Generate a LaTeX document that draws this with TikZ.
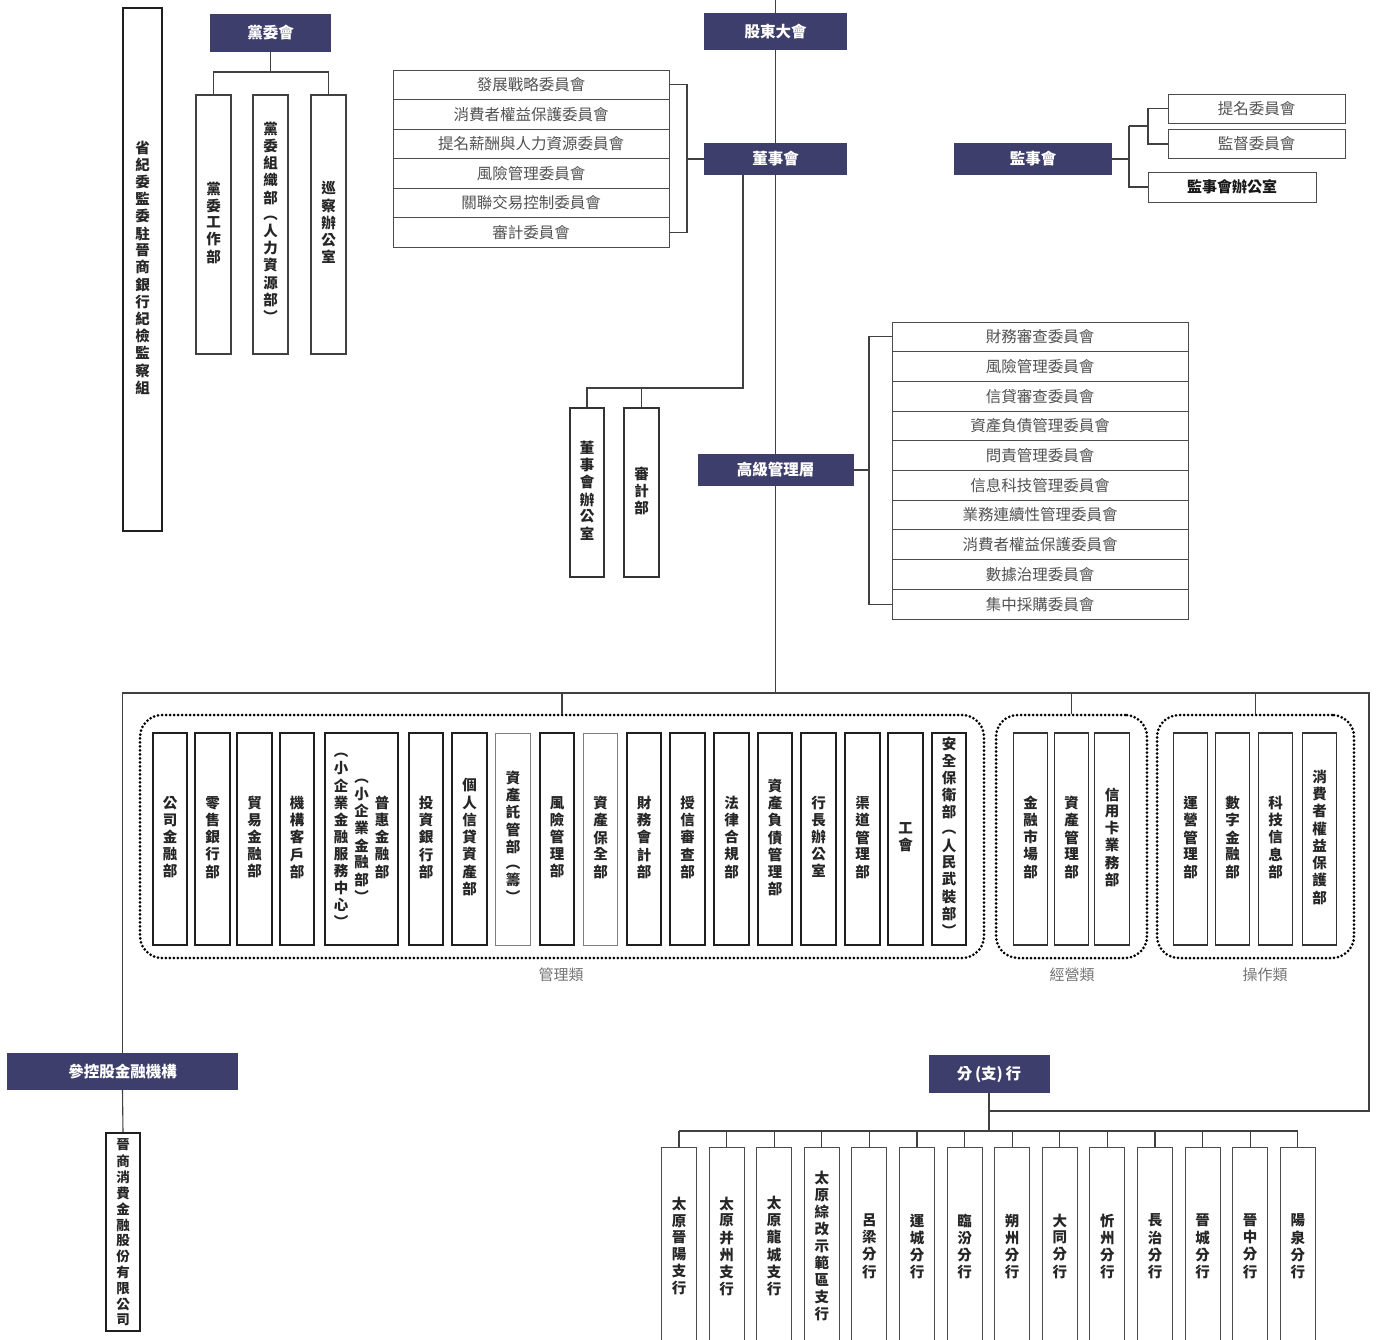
\documentclass[tikz,border=0pt]{standalone}
\usepackage{fontspec}
\setmainfont{Noto Sans CJK TC}
\definecolor{navy}{RGB}{62,62,108}
\let\vtend\relax
\newcommand\vt[1]{\begin{tabular}{@{}c@{}}\vtA#1\vtend\end{tabular}}
\def\vtA#1{#1\vtB}
\def\vtB#1{\ifx#1\vtend\expandafter\vtstop\else\expandafter\vtgo\fi#1}
\def\vtstop#1{}
\def\vtgo#1{\\#1\vtB}
\tikzset{
 ln/.style={draw=black!75, line width=1.1pt},
 dark/.style={fill=navy, draw=none, text=white, font=\bfseries\fontsize{15.5}{17}\selectfont, inner sep=0pt},
 vbox/.style={draw=black!88, line width=1.6pt, fill=white, inner sep=0pt, font=\bfseries\fontsize{14.5}{16}\selectfont, text=black!85},
 vthin/.style={vbox, draw=black!50, line width=0.9pt},
 vmed/.style={vbox, line width=1.1pt, draw=black!80},
 crow/.style={draw=black!70, line width=0.9pt, fill=white, inner sep=0pt, text=black!68, font=\fontsize{15.5}{17}\selectfont},
 grp/.style={draw=black, line width=3pt, dash pattern=on 0pt off 4pt, line cap=round, rounded corners=22pt, inner sep=0pt},
 glabel/.style={text=black!55, font=\fontsize{15}{17}\selectfont, inner sep=0pt},
}
\begin{document}
\begin{tikzpicture}[x=1pt,y=-1pt]
\useasboundingbox (0,0) rectangle (1377,1340);
% left column box
\node[vbox, minimum width=39, minimum height=523, font=\bfseries\fontsize{14.5}{15.8}\selectfont] (jw) at (142.5,269.5) {\vt{省紀委監委駐晉商銀行紀檢監察組}};
% party committee
\node[dark, minimum width=121, minimum height=38] (pc) at (270.5,33) {黨委會};
\node[vbox, draw=black!75, line width=1.4pt, minimum width=35, minimum height=259] (p1) at (213.5,224.5) {\vt{黨委工作部}};
\node[vbox, draw=black!75, line width=1.4pt, minimum width=35, minimum height=259] (p2) at (270.5,224.5) {\vt{黨委組織部︵人力資源部︶}};
\node[vbox, draw=black!75, line width=1.4pt, minimum width=35, minimum height=259] (p3) at (328.5,224.5) {\vt{巡察辦公室}};
\coordinate (pcj) at (270.5,72);
\draw[ln] (pc.south) -- (pcj);
\draw[ln] (p1.north) -- (p1.north |- pcj) -- (p3.north |- pcj) -- (p3.north);
% shareholders, board
\coordinate (top) at (775.5,0);
\node[dark, minimum width=143, minimum height=37] (gd) at (775.5,31.5) {股東大會};
\node[dark, minimum width=143, minimum height=32] (bod) at (775.5,159) {董事會};
\node[dark, minimum width=156, minimum height=32] (sm) at (775.5,470) {高級管理層};
\coordinate (jm) at (775.5,693);
\draw[ln] (top) -- (gd.north);
\draw[ln] (gd.south) -- (bod.north);
\draw[ln] (bod.south) -- (sm.north);
\draw[ln] (sm.south) -- (jm);
% board committees
\node[crow, minimum width=276, minimum height=29.5] (bc1) at (531,84.75) {發展戰略委員會};
\node[crow, minimum width=276, minimum height=29.5] (bc2) at (531,114.25) {消費者權益保護委員會};
\node[crow, minimum width=276, minimum height=29.5] (bc3) at (531,143.75) {提名薪酬與人力資源委員會};
\node[crow, minimum width=276, minimum height=29.5] (bc4) at (531,173.25) {風險管理委員會};
\node[crow, minimum width=276, minimum height=29.5] (bc5) at (531,202.75) {關聯交易控制委員會};
\node[crow, minimum width=276, minimum height=29.5] (bc6) at (531,232.25) {審計委員會};
\coordinate (bcj) at (687,159);
\draw[ln] (bc1.east) -- (bc1.east -| bcj) -- (bc6.east -| bcj) -- (bc6.east);
\draw[ln] (bcj) -- (bod.west);
% board office, audit
\node[vmed, minimum width=34, minimum height=169] (bo1) at (587,492.5) {\vt{董事會辦公室}};
\node[vmed, minimum width=35, minimum height=169] (bo2) at (641.5,492.5) {\vt{審計部}};
\coordinate (jbo) at (743,388);
\draw[ln] (bod.south -| jbo) -- (jbo) -- (bo1.north |- jbo) -- (bo1.north);
\draw[ln] (bo2.north |- jbo) -- (bo2.north);
% supervisors
\node[dark, minimum width=158, minimum height=32] (sup) at (1033,159) {監事會};
\node[crow, minimum width=177, minimum height=29] (n1) at (1256.5,108.5) {提名委員會};
\node[crow, minimum width=177, minimum height=29] (n2) at (1256.5,144) {監督委員會};
\node[crow, minimum width=168, minimum height=30, text=black!90, font=\bfseries\fontsize{15}{17}\selectfont] (n3) at (1232,187) {監事會辦公室};
\coordinate (sj) at (1129,159);
\coordinate (sj2) at (1148,126);
\draw[ln] (sup.east) -- (sj);
\draw[ln] (sj |- sj2) -- (sj |- n3.west) -- (n3.west);
\draw[ln] (sj |- sj2) -- (sj2);
\draw[ln] (n1.west) -- (n1.west -| sj2) -- (n2.west -| sj2) -- (n2.west);
% senior committees
\node[crow, minimum width=296, minimum height=29.7] (sc1) at (1040,336.85) {財務審查委員會};
\node[crow, minimum width=296, minimum height=29.7] (sc2) at (1040,366.55) {風險管理委員會};
\node[crow, minimum width=296, minimum height=29.7] (sc3) at (1040,396.25) {信貸審查委員會};
\node[crow, minimum width=296, minimum height=29.7] (sc4) at (1040,425.95) {資產負債管理委員會};
\node[crow, minimum width=296, minimum height=29.7] (sc5) at (1040,455.65) {問責管理委員會};
\node[crow, minimum width=296, minimum height=29.7] (sc6) at (1040,485.35) {信息科技管理委員會};
\node[crow, minimum width=296, minimum height=29.7] (sc7) at (1040,515.05) {業務連續性管理委員會};
\node[crow, minimum width=296, minimum height=29.7] (sc8) at (1040,544.75) {消費者權益保護委員會};
\node[crow, minimum width=296, minimum height=29.7] (sc9) at (1040,574.45) {數據治理委員會};
\node[crow, minimum width=296, minimum height=29.7] (sc10) at (1040,604.15) {集中採購委員會};
\coordinate (scj) at (869,470);
\draw[ln] (sm.east) -- (scj);
\draw[ln] (sc1.west) -- (sc1.west -| scj) -- (sc10.west -| scj) -- (sc10.west);
% frame
\coordinate (fl) at (122.5,693);
\coordinate (fr) at (1369,693);
\coordinate (frb) at (1369,1111);
\node[dark, minimum width=231, minimum height=37] (cg) at (122.5,1071.5) {參控股金融機構};
\node[vbox, minimum width=34, minimum height=198, font=\bfseries\fontsize{13.5}{15}\selectfont] (sub) at (123,1232) {\raisebox{-2pt}[\height][\depth]{\vt{晉商消費金融股份有限公司}}};
\node[dark, minimum width=121, minimum height=38] (br) at (989,1074) {分\,(支)\,行};
\coordinate (brj) at (989,1111);
\coordinate (bbar) at (989,1131);
\draw[ln] (cg.north) -- (fl) -- (fr) -- (frb) -- (brj);
\draw[ln] (cg.south) -- (sub.north);
\draw[ln] (br.south) -- (bbar);
% groups
\node[grp, minimum width=844, minimum height=243] (g1) at (562,836.5) {};
\node[grp, minimum width=151, minimum height=243] (g2) at (1071.5,836.5) {};
\node[grp, minimum width=197, minimum height=243] (g3) at (1255.5,836.5) {};
\draw[ln] (g1.north) -- (g1.north |- fl);
\draw[ln] (g2.north) -- (g2.north |- fl);
\draw[ln] (g3.north) -- (g3.north |- fl);
\node[glabel] (l1) at (561,975) {管理類};
\node[glabel] (l2) at (1072,975) {經營類};
\node[glabel] (l3) at (1265,975) {操作類};
% management depts
\tikzset{dep/.style={vbox, minimum width=34.5, minimum height=212}}
\node[dep] (d1) at (170,839) {\vt{公司金融部}};
\node[dep] (d2) at (212.5,839) {\vt{零售銀行部}};
\node[dep] (d3) at (254.5,839) {\vt{貿易金融部}};
\node[dep] (d4) at (297,839) {\vt{機構客戶部}};
\node[dep, minimum width=73] (d5) at (361.5,839) {\begin{tabular}{@{}c@{\hspace{6pt}}c@{\hspace{6pt}}c@{}}\vt{︵小企業金融服務中心︶}&\vt{︵小企業金融部︶}&\vt{普惠金融部}\end{tabular}};
\node[dep] (d6) at (426,839) {\vt{投資銀行部}};
\node[dep] (d7) at (469.5,839) {\vt{個人信貸資產部}};
\node[dep, vthin] (d8) at (513,839) {\vt{資產託管部︵籌︶}};
\node[dep] (d9) at (557,839) {\vt{風險管理部}};
\node[dep, vthin] (d10) at (600.5,839) {\vt{資產保全部}};
\node[dep] (d11) at (644,839) {\vt{財務會計部}};
\node[dep] (d12) at (687.5,839) {\vt{授信審查部}};
\node[dep] (d13) at (731.5,839) {\vt{法律合規部}};
\node[dep] (d14) at (775,839) {\vt{資產負債管理部}};
\node[dep] (d15) at (818.5,839) {\vt{行長辦公室}};
\node[dep] (d16) at (862.5,839) {\vt{渠道管理部}};
\node[dep] (d17) at (905.5,839) {\vt{工會}};
\node[dep] (d18) at (949,839) {\vt{安全保衛部︵人民武裝部︶}};
% business depts
\tikzset{dep2/.style={vmed, minimum width=34.5, minimum height=212}}
\node[dep2] (e1) at (1030.5,839) {\vt{金融市場部}};
\node[dep2] (e2) at (1071.5,839) {\vt{資產管理部}};
\node[dep2] (e3) at (1112,839) {\vt{信用卡業務部}};
\node[dep2] (o1) at (1190.5,839) {\vt{運營管理部}};
\node[dep2] (o2) at (1232.5,839) {\vt{數字金融部}};
\node[dep2] (o3) at (1275.5,839) {\vt{科技信息部}};
\node[dep2] (o4) at (1319.5,839) {\vt{消費者權益保護部}};
% branches
\tikzset{brc/.style={vmed, draw=black!70, line width=0.9pt, minimum width=35, minimum height=202}}
\foreach \i/\t in {1/太原晉陽支行,2/太原并州支行,3/太原龍城支行,4/太原綜改示範區支行,5/呂梁分行,6/運城分行,7/臨汾分行,8/朔州分行,9/大同分行,10/忻州分行,11/長治分行,12/晉城分行,13/晉中分行,14/陽泉分行}{
  \node[brc] (b\i) at ({679+47.6*(\i-1)},1248) {\expandafter\vt\expandafter{\t}};
}
\draw[ln] (b1.north |- bbar) -- (b14.north |- bbar);
\foreach \i in {1,...,14}{
  \draw[ln] (b\i.north |- bbar) -- (b\i.north);
}
\end{tikzpicture}
\end{document}
